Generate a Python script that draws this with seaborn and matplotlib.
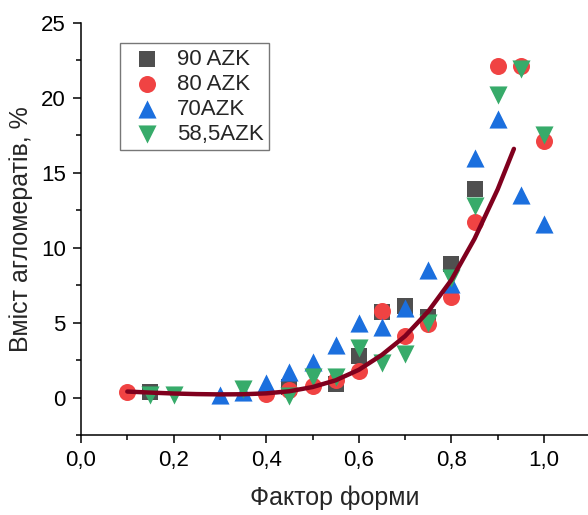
import matplotlib
matplotlib.use("Agg")
import matplotlib.pyplot as plt
import seaborn as sns
import pandas as pd
from matplotlib.ticker import MultipleLocator, FuncFormatter

# ---- data ----
x90 = [0.15, 0.45, 0.55, 0.60, 0.65, 0.70, 0.75, 0.80, 0.85]
y90 = [0.35, 0.70, 0.90, 2.80, 5.70, 6.10, 5.40, 8.90, 13.9]

x80 = [0.10, 0.40, 0.45, 0.50, 0.55, 0.60, 0.65, 0.70, 0.75, 0.80, 0.85, 0.90, 0.95, 1.00]
y80 = [0.40, 0.25, 0.50, 0.75, 1.20, 1.80, 5.80, 4.10, 4.90, 6.70, 11.7, 22.1, 22.1, 17.1]

x70 = [0.30, 0.35, 0.40, 0.45, 0.50, 0.55, 0.60, 0.65, 0.70, 0.75, 0.80, 0.85, 0.90, 0.95, 1.00]
y70 = [0.20, 0.40, 0.95, 1.70, 2.35, 3.50, 5.00, 4.70, 6.00, 8.50, 7.60, 16.0, 18.6, 13.5, 11.6]

x58 = [0.15, 0.20, 0.35, 0.45, 0.50, 0.55, 0.60, 0.65, 0.70, 0.75, 0.80, 0.85, 0.90, 0.95, 1.00]
y58 = [0.15, 0.20, 0.60, 0.10, 1.35, 1.35, 3.30, 2.30, 2.90, 5.00, 8.00, 12.8, 20.2, 21.9, 17.5]

fit_x = [0.10, 0.15, 0.20, 0.25, 0.30, 0.35, 0.40, 0.45, 0.50, 0.55, 0.60, 0.65,
         0.70, 0.75, 0.80, 0.85, 0.90, 0.935]
fit_y = [0.40, 0.33, 0.27, 0.23, 0.21, 0.22, 0.28, 0.42, 0.70, 1.15, 1.85, 2.85,
         4.10, 5.75, 7.85, 10.6, 13.9, 16.6]

labels = ["90 AZK", "80 AZK", "70AZK", "58,5AZK"]
xlabel = "Фактор форми"
ylabel = "Вміст агломератів, %"

# ---- style ----
sns.set_style("ticks")
plt.rcParams["font.family"] = ["Liberation Sans", "DejaVu Sans"]

fig = plt.figure(figsize=(5.88, 5.15), dpi=100)
ax = fig.add_axes([81 / 588, 80 / 515, 507 / 588, 412 / 515])

series = [
    (x90, y90, labels[0], "s", "#4f4f4f", 117),
    (x80, y80, labels[1], "o", "#f04343", 150),
    (x70, y70, labels[2], "^", "#1b6fde", 170),
    (x58, y58, labels[3], "v", "#37ab6a", 170),
]
for i, (xs, ys, lab, mk, col, s) in enumerate(series):
    df = pd.DataFrame({"x": xs, "y": ys})
    sns.scatterplot(data=df, x="x", y="y", marker=mk, color=col, s=s,
                    linewidth=0, label=lab, ax=ax, zorder=3 + i)

fdf = pd.DataFrame({"x": fit_x, "y": fit_y})
sns.lineplot(data=fdf, x="x", y="y", color="#80001e", linewidth=3.2,
             ax=ax, zorder=10, sort=False, legend=False,
             solid_capstyle="round")

ax.set_xlim(0, 507 / 463)
ax.set_ylim(-2.5, 25)
ax.xaxis.set_major_locator(MultipleLocator(0.2))
ax.xaxis.set_minor_locator(MultipleLocator(0.1))
ax.yaxis.set_major_locator(MultipleLocator(5))
ax.yaxis.set_minor_locator(MultipleLocator(2.5))
ax.xaxis.set_major_formatter(FuncFormatter(lambda v, p: f"{v:.1f}".replace(".", ",")))
ax.yaxis.set_major_formatter(FuncFormatter(lambda v, p: f"{v:.0f}"))

for sp in ["top", "right"]:
    ax.spines[sp].set_visible(False)
for sp in ["left", "bottom"]:
    ax.spines[sp].set_linewidth(1.1)
    ax.spines[sp].set_color("black")

ax.tick_params(which="major", direction="out", length=6, width=1.1,
               labelsize=16, colors="black", pad=5)
ax.tick_params(which="minor", direction="out", length=3.5, width=1.1, colors="black")

ax.set_xlabel(xlabel, fontsize=18, labelpad=10)
ax.set_ylabel(ylabel, fontsize=18, labelpad=6)

leg = ax.legend(loc="upper left", bbox_to_anchor=(120 / 588, 1 - 43 / 515),
                bbox_transform=fig.transFigure, borderaxespad=0,
                fontsize=16, frameon=True, fancybox=False,
                borderpad=0.25, labelspacing=0.18, handlelength=1.9,
                handletextpad=0.4, markerscale=1.0)
leg.get_frame().set_edgecolor("#555555")
leg.get_frame().set_linewidth(1.0)

fig.savefig("out.png", dpi=100)
